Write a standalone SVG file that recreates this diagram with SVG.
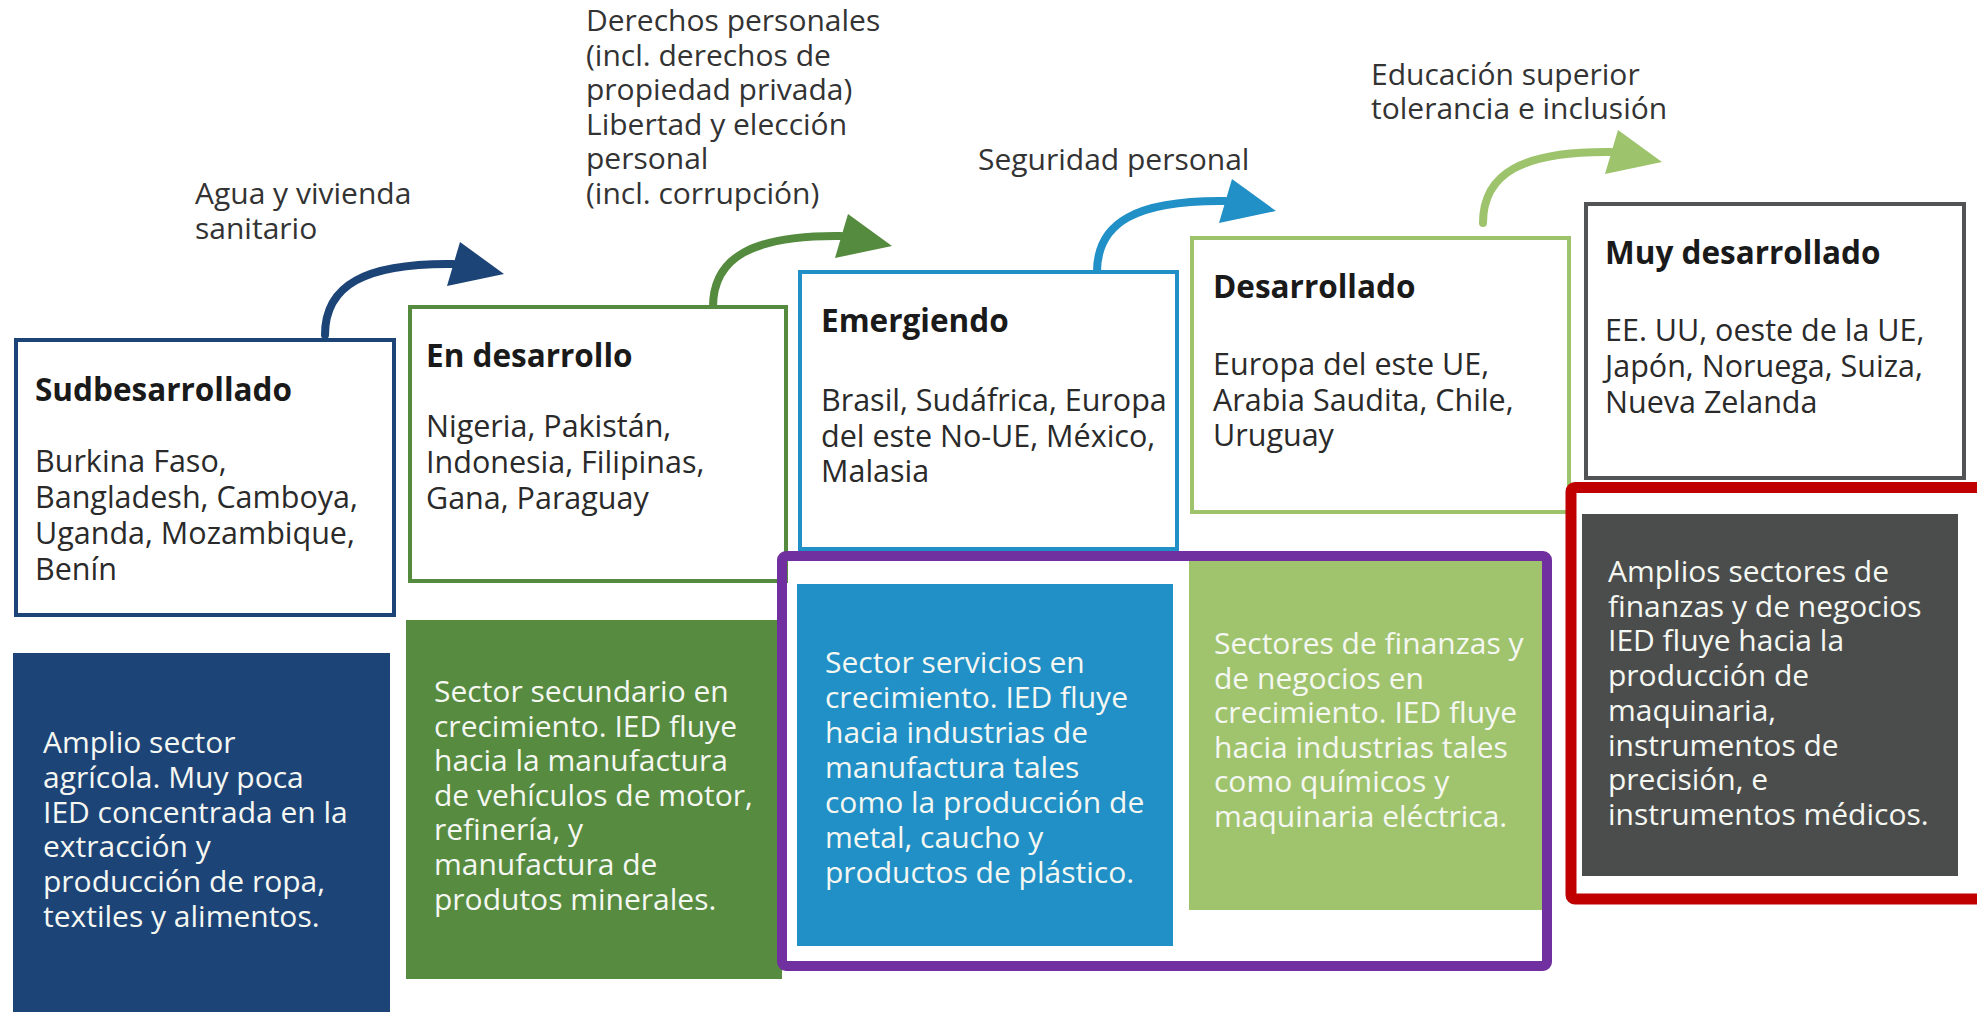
<svg xmlns="http://www.w3.org/2000/svg" width="1977" height="1012" viewBox="0 0 1977 1012">
<defs>
<style>
text{font-family:"Open Sans","Noto Sans","Liberation Sans",sans-serif;font-size:30px}
.lbl{fill:#333333}
.ttl{fill:#1a1a1a;font-weight:bold;font-size:31.5px}
.body{fill:#2a2a2a;font-size:30.5px}
.wt{fill:#f5f7f2}
.box{fill:#ffffff;stroke-width:4}
.arr{fill:none;stroke-width:8;stroke-linecap:round}
</style>
</defs>
<rect width="1977" height="1012" fill="#ffffff"/>

<g id="labels">
<text class="lbl" x="195" y="204">Agua y vivienda<tspan x="195" dy="35">sanitario</tspan></text>
<text class="lbl" x="586" y="31">Derechos personales<tspan x="586" dy="34.5">(incl. derechos de</tspan><tspan x="586" dy="34.5">propiedad privada)</tspan><tspan x="586" dy="34.5">Libertad y elección</tspan><tspan x="586" dy="34.5">personal</tspan><tspan x="586" dy="34.5">(incl. corrupción)</tspan></text>
<text class="lbl" x="978" y="170">Seguridad personal</text>
<text class="lbl" x="1371" y="85">Educación superior<tspan x="1371" dy="34">tolerancia e inclusión</tspan></text>
</g>

<g id="connectors">
<path class="arr" stroke="#1d4477" d="M325,335 C325,285 365,263 453,264"/>
<polygon fill="#1d4477" points="460,242 504,274 447,286"/>
<path class="arr" stroke="#548b3f" d="M713,307 C713,257 753,235 841,236"/>
<polygon fill="#548b3f" points="848,214 892,246 835,258"/>
<path class="arr" stroke="#2190c6" d="M1097,272 C1097,222 1137,200 1225,201"/>
<polygon fill="#2190c6" points="1232,179 1276,211 1219,223"/>
<path class="arr" stroke="#9dc36d" d="M1483,223 C1483,173 1523,151 1611,152"/>
<polygon fill="#9dc36d" points="1618,130 1662,162 1605,174"/>
</g>

<g id="node-sudbesarrollado">
<rect class="box" stroke="#1d4477" x="16" y="340" width="378" height="275"/>
<text class="ttl" x="35" y="401">Sudbesarrollado</text>
<text class="body" x="35" y="472">Burkina Faso,<tspan x="35" dy="36">Bangladesh, Camboya,</tspan><tspan x="35" dy="36">Uganda, Mozambique,</tspan><tspan x="35" dy="36">Benín</tspan></text>
</g>

<g id="node-en-desarrollo">
<rect class="box" stroke="#548b3f" x="410" y="307" width="376" height="274"/>
<text class="ttl" x="426" y="367">En desarrollo</text>
<text class="body" x="426" y="437">Nigeria, Pakistán,<tspan x="426" dy="36">Indonesia, Filipinas,</tspan><tspan x="426" dy="36">Gana, Paraguay</tspan></text>
</g>

<g id="node-emergiendo">
<rect class="box" stroke="#2190c6" x="800" y="272" width="377" height="277"/>
<text class="ttl" x="821" y="332">Emergiendo</text>
<text class="body" x="821" y="411">Brasil, Sudáfrica, Europa<tspan x="821" dy="35.5">del este No-UE, México,</tspan><tspan x="821" dy="35.5">Malasia</tspan></text>
</g>

<g id="node-desarrollado">
<rect class="box" stroke="#9dc36d" x="1192" y="238" width="377" height="274"/>
<text class="ttl" x="1213" y="298">Desarrollado</text>
<text class="body" x="1213" y="375">Europa del este UE,<tspan x="1213" dy="35.5">Arabia Saudita, Chile,</tspan><tspan x="1213" dy="35.5">Uruguay</tspan></text>
</g>

<g id="node-muy-desarrollado">
<rect class="box" stroke="#525355" stroke-width="5" x="1586" y="204" width="378" height="274"/>
<text class="ttl" x="1605" y="264">Muy desarrollado</text>
<text class="body" x="1605" y="341">EE. UU, oeste de la UE,<tspan x="1605" dy="36">Japón, Noruega, Suiza,</tspan><tspan x="1605" dy="36">Nueva Zelanda</tspan></text>
</g>

<g id="node-sector-1">
<rect fill="#1d4477" x="13" y="653" width="377" height="370"/>
<text class="wt" x="43" y="753">Amplio sector<tspan x="43" dy="34.8">agrícola. Muy poca</tspan><tspan x="43" dy="34.8">IED concentrada en la</tspan><tspan x="43" dy="34.8">extracción y</tspan><tspan x="43" dy="34.8">producción de ropa,</tspan><tspan x="43" dy="34.8">textiles y alimentos.</tspan></text>
</g>

<g id="node-sector-2">
<rect fill="#568b40" x="406" y="620" width="376" height="359"/>
<text class="wt" x="434" y="702">Sector secundario en<tspan x="434" dy="34.6">crecimiento. IED fluye</tspan><tspan x="434" dy="34.6">hacia la manufactura</tspan><tspan x="434" dy="34.6">de vehículos de motor,</tspan><tspan x="434" dy="34.6">refinería, y</tspan><tspan x="434" dy="34.6">manufactura de</tspan><tspan x="434" dy="34.6">produtos minerales.</tspan></text>
</g>

<g id="node-sector-3">
<rect fill="#2190c6" x="797" y="584" width="376" height="362"/>
<text class="wt" x="825" y="673">Sector servicios en<tspan x="825" dy="35">crecimiento. IED fluye</tspan><tspan x="825" dy="35">hacia industrias de</tspan><tspan x="825" dy="35">manufactura tales</tspan><tspan x="825" dy="35">como la producción de</tspan><tspan x="825" dy="35">metal, caucho y</tspan><tspan x="825" dy="35">productos de plástico.</tspan></text>
</g>

<g id="node-sector-4">
<rect fill="#a0c46e" x="1189" y="557" width="358" height="353"/>
<text class="wt" x="1214" y="654">Sectores de finanzas y<tspan x="1214" dy="34.5">de negocios en</tspan><tspan x="1214" dy="34.5">crecimiento. IED fluye</tspan><tspan x="1214" dy="34.5">hacia industrias tales</tspan><tspan x="1214" dy="34.5">como químicos y</tspan><tspan x="1214" dy="34.5">maquinaria eléctrica.</tspan></text>
</g>

<g id="node-sector-5">
<rect fill="#4b4d4d" x="1582" y="514" width="376" height="362"/>
<text class="wt" x="1608" y="582">Amplios sectores de<tspan x="1608" dy="34.7">finanzas y de negocios</tspan><tspan x="1608" dy="34.7">IED fluye hacia la</tspan><tspan x="1608" dy="34.7">producción de</tspan><tspan x="1608" dy="34.7">maquinaria,</tspan><tspan x="1608" dy="34.7">instrumentos de</tspan><tspan x="1608" dy="34.7">precisión, e</tspan><tspan x="1608" dy="34.7">instrumentos médicos.</tspan></text>
</g>

<g id="highlight-purple">
<rect fill="none" stroke="#7030a0" stroke-width="10" rx="4" x="782" y="556" width="765" height="410"/>
</g>
<g id="highlight-red">
<rect fill="none" stroke="#c00000" stroke-width="11" rx="4" x="1571" y="487.5" width="420" height="411.5"/>
</g>
</svg>
